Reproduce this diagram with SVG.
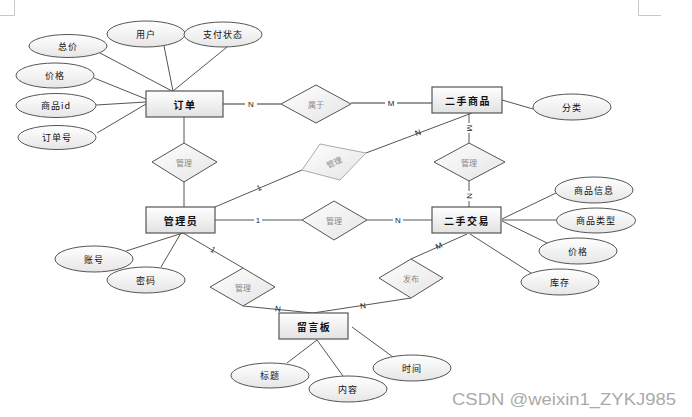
<svg xmlns="http://www.w3.org/2000/svg" width="692" height="417" viewBox="0 0 692 417">
<defs>
<linearGradient id="gE" x1="0" y1="0" x2="0" y2="1"><stop offset="0" stop-color="#ffffff"/><stop offset="1" stop-color="#e2e2e2"/></linearGradient>
<linearGradient id="gA" x1="0" y1="0" x2="0" y2="1"><stop offset="0" stop-color="#ffffff"/><stop offset="1" stop-color="#e6e6e6"/></linearGradient>
<linearGradient id="gD" x1="0" y1="0" x2="1" y2="1"><stop offset="0" stop-color="#ffffff"/><stop offset="1" stop-color="#e4e4e4"/></linearGradient>
<style>
.ent{fill:url(#gE);stroke:#555;stroke-width:1.2}
.att{fill:url(#gA);stroke:#555;stroke-width:1}
.rel{fill:url(#gD);stroke:#555;stroke-width:1}
.relg{fill:url(#gD);stroke:#aaa;stroke-width:1}
.ln{stroke:#555;stroke-width:1;fill:none}
.lnh{stroke:#777;stroke-width:1.6;fill:none}
text{font-family:"Noto Sans CJK SC","Liberation Sans",sans-serif;text-anchor:middle;dominant-baseline:central}
.te{font-size:10px;font-weight:bold;fill:#111;letter-spacing:1.5px}
.ta{font-size:9px;fill:#111;letter-spacing:1px}
.tr{font-size:8px;fill:#888}
.tc{font-size:8px;fill:#222;font-family:"Liberation Sans",sans-serif}
.corner{stroke:#c8c8c8;stroke-width:1;fill:none}
</style>
</defs>
<path class="corner" d="M14.5 0V15.5H0"/>
<path class="corner" d="M638.5 0V15.5H661"/>
<g id="connectors">
<line class="lnh" x1="223" y1="104" x2="281" y2="104"/>
<line class="lnh" x1="351" y1="103" x2="432" y2="103"/>
<line class="ln" x1="184" y1="117" x2="184" y2="143"/>
<line class="ln" x1="184" y1="182" x2="184" y2="207"/>
<line class="ln" x1="215" y1="207" x2="302" y2="170"/>
<line class="ln" x1="366" y1="153" x2="472" y2="113"/>
<line class="ln" x1="469" y1="113" x2="469" y2="143"/>
<line class="ln" x1="469" y1="181" x2="469" y2="207"/>
<line class="ln" x1="215" y1="220" x2="302" y2="220"/>
<line class="ln" x1="367" y1="220" x2="432" y2="220"/>
<line class="ln" x1="183" y1="233" x2="243" y2="268"/>
<line class="ln" x1="243" y1="306" x2="313" y2="313"/>
<line class="ln" x1="411" y1="298" x2="313" y2="313"/>
<line class="ln" x1="467" y1="234" x2="411" y2="259"/>
<line class="ln" x1="100" y1="53" x2="172" y2="91"/>
<line class="ln" x1="164" y1="46" x2="173" y2="91"/>
<line class="ln" x1="227" y1="47" x2="173" y2="91"/>
<line class="ln" x1="94" y1="78" x2="146" y2="99"/>
<line class="ln" x1="96" y1="105" x2="146" y2="102"/>
<line class="ln" x1="97" y1="133" x2="146" y2="104"/>
<line class="ln" x1="502" y1="100" x2="533" y2="109"/>
<line class="ln" x1="502" y1="219" x2="556" y2="193"/>
<line class="ln" x1="502" y1="220" x2="557" y2="220"/>
<line class="ln" x1="502" y1="221" x2="547" y2="243"/>
<line class="ln" x1="470" y1="234" x2="531" y2="273"/>
<line class="ln" x1="126" y1="251" x2="183" y2="233"/>
<line class="ln" x1="161" y1="267" x2="181" y2="233"/>
<line class="ln" x1="287" y1="363" x2="317" y2="340"/>
<line class="ln" x1="343" y1="376" x2="317" y2="340"/>
<line class="ln" x1="352" y1="327" x2="393" y2="357"/>
<g>
<rect x="245" y="99" width="12" height="10" fill="#fff"/><text class="tc" x="251" y="104">N</text>
<rect x="385" y="98" width="12" height="10" fill="#fff"/><text class="tc" x="391" y="103">M</text>
<text class="tc" x="259" y="188" transform="rotate(-23 259 188)">1</text>
<text class="tc" x="418" y="133" transform="rotate(-21 418 133)">N</text>
<rect x="464" y="123" width="10" height="10" fill="#fff"/><text class="tc" x="469" y="128" transform="rotate(90 469 128)">M</text>
<rect x="464" y="191" width="10" height="10" fill="#fff"/><text class="tc" x="469" y="196" transform="rotate(90 469 196)">N</text>
<rect x="254" y="215" width="8" height="10" fill="#fff"/><text class="tc" x="258" y="220">1</text>
<rect x="393" y="215" width="10" height="10" fill="#fff"/><text class="tc" x="398" y="220">N</text>
<text class="tc" x="213" y="250" transform="rotate(30 213 250)">1</text>
<text class="tc" x="278" y="309" transform="rotate(6 278 309)">N</text>
<text class="tc" x="363" y="306" transform="rotate(-9 363 306)">N</text>
<text class="tc" x="439" y="246" transform="rotate(-24 439 246)">M</text>
</g>
</g>
<g id="dingdan"><rect class="ent" x="146" y="91" width="77" height="26"/><text class="te" x="185" y="104">订单</text></g>
<g id="ershoushangpin"><rect class="ent" x="432" y="87" width="70" height="26"/><text class="te" x="468" y="100">二手商品</text></g>
<g id="ershoujiaoyi"><rect class="ent" x="432" y="207" width="69" height="26"/><text class="te" x="467" y="220">二手交易</text></g>
<g id="guanliyuan"><rect class="ent" x="146" y="207" width="69" height="26"/><text class="te" x="181" y="220">管理员</text></g>
<g id="liuyanban"><rect class="ent" x="279" y="313" width="69" height="26"/><text class="te" x="314" y="326">留言板</text></g>
<g id="shuyu"><polygon class="rel" points="281,104 316,85 351,104 316,123"/><text class="tr" x="316" y="104">属于</text></g>
<g id="guanli1"><polygon class="rel" points="152,162 184,143 217,162 184,182"/><text class="tr" x="184" y="162">管理</text></g>
<g id="guanli2"><polygon class="relg" points="302,170 320,144 366,153 340,180"/><text class="tr" x="334" y="162" transform="rotate(-25 334 162)">管理</text></g>
<g id="guanli3"><polygon class="rel" points="434,162 469,143 505,162 469,181"/><text class="tr" x="469" y="162">管理</text></g>
<g id="guanli4"><polygon class="rel" points="302,220 334,201 367,220 334,240"/><text class="tr" x="334" y="220">管理</text></g>
<g id="guanli5"><polygon class="rel" points="210,287 243,268 275,287 243,306"/><text class="tr" x="243" y="287">管理</text></g>
<g id="fabu"><polygon class="rel" points="379,278 411,259 443,278 411,298"/><text class="tr" x="411" y="278">发布</text></g>
<g id="a-zongjia"><ellipse class="att" cx="68" cy="46" rx="39" ry="11.5"/><text class="ta" x="68" y="46">总价</text></g>
<g id="a-yonghu"><ellipse class="att" cx="146" cy="34" rx="39" ry="13"/><text class="ta" x="146" y="34">用户</text></g>
<g id="a-zhifu"><ellipse class="att" cx="223" cy="34.5" rx="39" ry="12.5"/><text class="ta" x="223" y="34.5">支付状态</text></g>
<g id="a-jiage1"><ellipse class="att" cx="55" cy="75.5" rx="39" ry="12.5"/><text class="ta" x="55" y="75.5">价格</text></g>
<g id="a-spid"><ellipse class="att" cx="56" cy="105.5" rx="40" ry="12"/><text class="ta" x="56" y="105.5">商品id</text></g>
<g id="a-ddh"><ellipse class="att" cx="57" cy="137.5" rx="39" ry="12"/><text class="ta" x="57" y="137.5">订单号</text></g>
<g id="a-fenlei"><ellipse class="att" cx="572" cy="107" rx="39" ry="13"/><text class="ta" x="572" y="107">分类</text></g>
<g id="a-spxx"><ellipse class="att" cx="594" cy="190" rx="39" ry="13"/><text class="ta" x="594" y="190">商品信息</text></g>
<g id="a-splx"><ellipse class="att" cx="596" cy="220.5" rx="39.5" ry="12.5"/><text class="ta" x="596" y="220.5">商品类型</text></g>
<g id="a-jiage2"><ellipse class="att" cx="578" cy="251" rx="39" ry="13"/><text class="ta" x="578" y="251">价格</text></g>
<g id="a-kucun"><ellipse class="att" cx="560" cy="282" rx="39" ry="13"/><text class="ta" x="560" y="282">库存</text></g>
<g id="a-zhanghao"><ellipse class="att" cx="94" cy="259" rx="39" ry="13"/><text class="ta" x="94" y="259">账号</text></g>
<g id="a-mima"><ellipse class="att" cx="146" cy="280" rx="39" ry="13"/><text class="ta" x="146" y="280">密码</text></g>
<g id="a-biaoti"><ellipse class="att" cx="270" cy="375.5" rx="39" ry="12.5"/><text class="ta" x="270" y="375.5">标题</text></g>
<g id="a-neirong"><ellipse class="att" cx="348" cy="389" rx="39" ry="13"/><text class="ta" x="348" y="389">内容</text></g>
<g id="a-shijian"><ellipse class="att" cx="412" cy="368" rx="39" ry="13"/><text class="ta" x="412" y="368">时间</text></g>
<text x="564" y="399" style="font-family:'Liberation Sans',sans-serif;font-size:16px;fill:#aaa" textLength="224" lengthAdjust="spacingAndGlyphs">CSDN @weixin1_ZYKJ985</text>
</svg>
